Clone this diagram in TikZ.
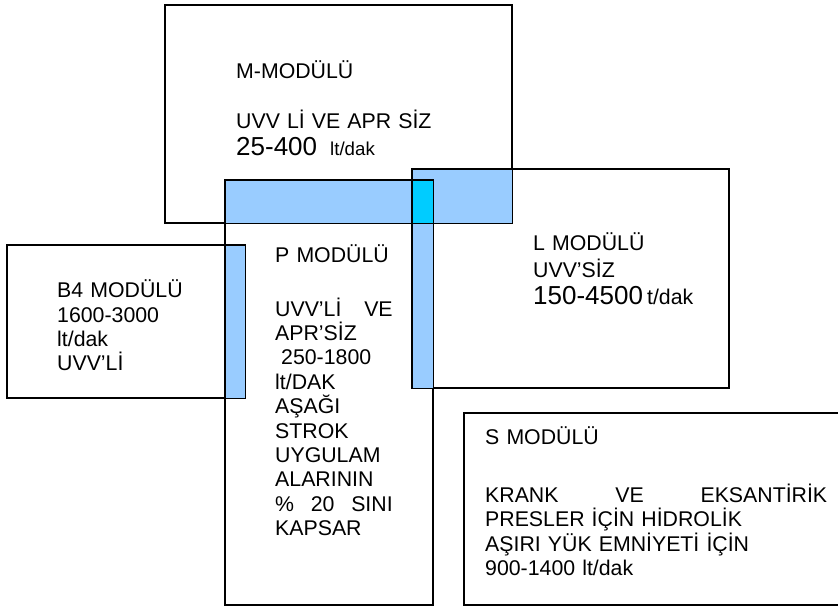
\documentclass[tikz,border=0pt]{standalone}
\usepackage{fontspec}
\setmainfont{Liberation Sans}
\definecolor{lblue}{HTML}{99CCFF}
\definecolor{cyanov}{HTML}{00CCFF}
\begin{document}
\begin{tikzpicture}[x=1pt,y=-1pt,
  box/.style={draw=black, line width=1.2pt, rectangle, anchor=north west, inner sep=0pt},
  txt/.style={anchor=base west, inner sep=0pt, align=left, font=\fontsize{21.3}{24.4}\selectfont}]
\useasboundingbox (0,0) rectangle (838,608);
% box shapes (named)
\node[box, minimum width=346pt, minimum height=217pt] (M) at (165,5) {};
\node[box, minimum width=207pt, minimum height=424pt] (P) at (225,180) {};
\node[box, minimum width=316pt, minimum height=218pt] (L) at (412,169) {};
\node[box, minimum width=237pt, minimum height=152pt] (B4) at (7,245) {};
\node[box, minimum width=381pt, minimum height=191pt] (S) at (464,413) {};
% overlaps
\fill[lblue] (P.north west) rectangle (P.east |- M.south);
\fill[lblue] (L.north west) rectangle (M.south east);
\fill[lblue] (L.west |- P.north) rectangle (P.east |- L.south);
\fill[lblue] (P.west |- B4.north) rectangle (B4.south east);
\fill[cyanov] (L.west |- P.north) rectangle (P.east |- M.south);
% outlines on top
\foreach \b in {M,P,L,B4,S} \draw[line width=1.2pt] (\b.north west) rectangle (\b.south east);
% texts
\node[txt, text width=270pt] (mt) at (236,78) {M-MODÜLÜ\\[26.5pt]
UVV Lİ VE APR SİZ\\[2pt]
{\fontsize{26}{26}\selectfont 25-400}\hspace{13pt}{\fontsize{18.7}{20}\selectfont lt/dak}};
\node[txt, text width=180pt] (b4t) at (57,297.6) {B4 MODÜLÜ\\
1600-3000\\
lt/dak\\
UVV’Lİ};
\node[txt, text width=117.5pt] (pt) at (275,262.6) {P MODÜLÜ\\[29pt]
UVV’Lİ\hfill VE\\
APR’SİZ\\
\hspace*{6pt}250-1800\\
lt/DAK\\
AŞAĞI\\
STROK\\
UYGULAM\\
ALARININ\\
\%\hfill 20\hfill SINI\\
KAPSAR};
\node[txt, text width=190pt] (lt) at (533,250.6) {L MODÜLÜ\\[2pt]
UVV’SİZ\\[3pt]
{\fontsize{26}{26}\selectfont 150-4500}\hspace{4pt}t/dak};
\node[txt, text width=342pt] (st) at (485,444) {S MODÜLÜ\\[34pt]
KRANK\hfill VE\hfill EKSANTİRİK\\
PRESLER İÇİN HİDROLİK\\
AŞIRI YÜK EMNİYETİ İÇİN\\
900-1400 lt/dak};
\end{tikzpicture}
\end{document}
